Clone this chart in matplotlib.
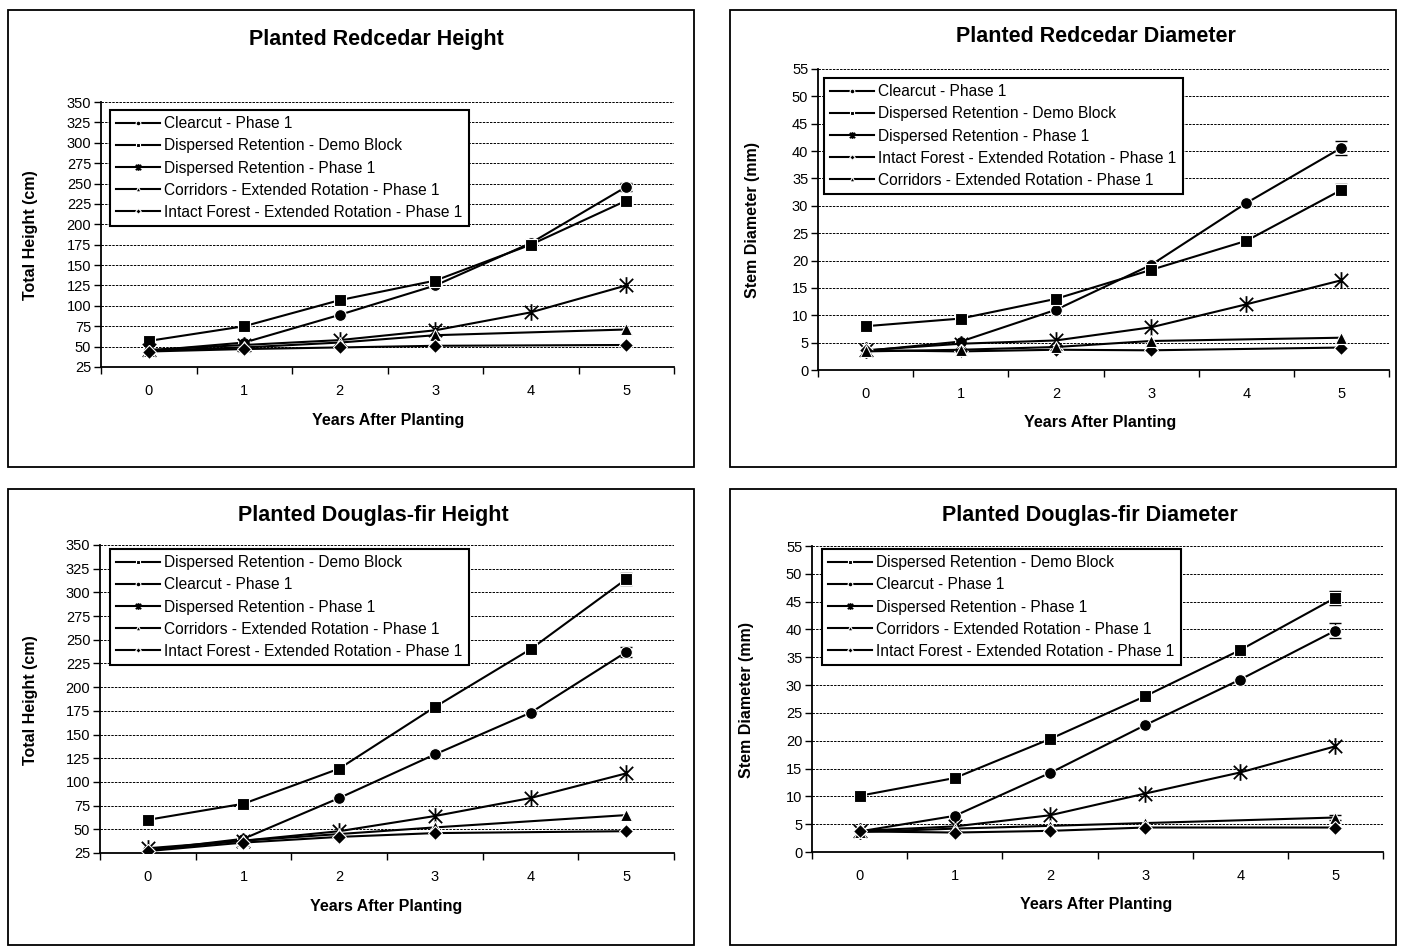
import numpy as np
import matplotlib
matplotlib.use('Agg')
import matplotlib.pyplot as plt
from matplotlib.path import Path
from matplotlib.patches import Rectangle

plt.rcParams['font.family'] = ['Liberation Sans', 'DejaVu Sans']

nan = np.nan
years = [0, 1, 2, 3, 4, 5]

lab_clear = "Clearcut - Phase 1"
lab_demo = "Dispersed Retention - Demo Block"
lab_dr1 = "Dispersed Retention - Phase 1"
lab_corr = "Corridors - Extended Rotation - Phase 1"
lab_intact = "Intact Forest - Extended Rotation - Phase 1"

# Planted Redcedar height (cm)
rc_h_clearcut = [45, 55, 89, 125, 177, 246]
rc_h_demo = [57, 75, 107, 131, 175, 229]
rc_h_dr1 = [46, 52, 58, 70, 92, 125]
rc_h_corr = [45, 49, 55, 64, nan, 71]
rc_h_intact = [44, 47, 49, 51, nan, 52]

# Planted Redcedar diameter (mm)
rc_d_clearcut = [3.5, 5.2, 11.0, 19.2, 30.5, 40.6]
rc_d_demo = [8.0, 9.4, 13.0, 18.3, 23.6, 32.9]
rc_d_dr1 = [3.6, 4.8, 5.4, 7.8, 12.0, 16.4]
rc_d_intact = [3.6, 3.4, 3.7, 3.6, nan, 4.1]
rc_d_corr = [3.4, 3.7, 4.2, 5.3, nan, 5.9]

# Planted Douglas-fir height (cm)
df_h_demo = [60, 77, 114, 179, 240, 314]
df_h_clearcut = [28, 40, 83, 129, 173, 237]
df_h_dr1 = [30, 38, 48, 64, 83, 109]
df_h_corr = [28, 38, 45, 52, nan, 65]
df_h_intact = [27, 36, 42, 46, nan, 48]

# Planted Douglas-fir diameter (mm)
df_d_demo = [10.1, 13.3, 20.3, 28.0, 36.3, 45.7]
df_d_clearcut = [3.7, 6.5, 14.2, 22.8, 31.0, 39.8]
df_d_dr1 = [3.8, 4.6, 6.6, 10.5, 14.3, 19.0]
df_d_corr = [3.6, 4.2, 4.7, 5.2, nan, 6.2]
df_d_intact = [3.7, 3.5, 3.8, 4.4, nan, 4.4]

# standard error at year 5 (only where visible)
rc_h_err5 = {'clearcut': 5, 'demo': 5}
rc_d_err5 = {'clearcut': 1.3, 'demo': 1.0}
df_h_err5 = {'clearcut': 5, 'demo': 6}
df_d_err5 = {'clearcut': 1.3, 'demo': 1.3, 'corr': 0.5}

star = Path([(-1, -1), (1, 1), (-1, 1), (1, -1), (0, -1.25), (0, 1.25)],
            [Path.MOVETO, Path.LINETO] * 3)
styles = {
    'clearcut': ('o', 8.5),
    'demo': ('s', 8),
    'dr1': (star, 12),
    'corr': ('^', 8.5),
    'intact': ('D', 7),
}

W, H = 1403, 950
fig = plt.figure(figsize=(W / 100, H / 100), dpi=100)


def px(l, t, r, b):
    return [l / W, 1 - b / H, (r - l) / W, (b - t) / H]


def draw(box, rect, series, err5, ylim, ystep, title, ylabel, title_xy, xl_xy, yl_xy, leg_xy):
    # chart area border (Excel style)
    fig.patches.append(Rectangle((box[0] / W, 1 - box[3] / H), (box[2] - box[0]) / W,
                                 (box[3] - box[1]) / H, transform=fig.transFigure,
                                 fill=False, edgecolor='black', lw=1.3))
    ax = fig.add_axes(px(*rect))
    for label, vals, key in series:
        y = np.array(vals, float)
        m = ~np.isnan(y)
        x = np.array(years)[m]
        mk, ms = styles[key]
        filled = key != 'dr1'
        ax.plot(x, y[m], color='black', lw=1.5, marker=mk, ms=ms, mfc='black',
                mec='white' if filled else 'black', mew=0.8 if filled else 1.3,
                label=label, zorder=3)
        if key in err5:
            ax.errorbar(5, y[-1], yerr=err5[key], fmt='none', ecolor='black',
                        elinewidth=1, capsize=4, zorder=2)
    ax.set_xlim(-0.5, 5.5)
    ax.set_ylim(*ylim)
    ax.set_xticks(years)
    ax.set_xticks(np.arange(-0.5, 6, 1), minor=True)
    ax.set_yticks(np.arange(ylim[0], ylim[1] + ystep / 2, ystep))
    ax.tick_params(axis='x', which='major', length=0, pad=12, labelsize=10.5)
    ax.tick_params(axis='x', which='minor', length=5, width=1, direction='out')
    ax.tick_params(axis='y', length=5, width=1, direction='out', pad=2, labelsize=10.5)
    ax.yaxis.grid(True, linestyle=(0, (2.5, 1.2)), color='black', lw=0.7)
    ax.set_axisbelow(True)
    for s in ['top', 'right']:
        ax.spines[s].set_visible(False)
    for s in ['left', 'bottom']:
        ax.spines[s].set_linewidth(1.3)
    fig.text(title_xy[0] / W, 1 - title_xy[1] / H, title, ha='center', va='center',
             fontsize=15.5, fontweight='bold')
    fig.text(xl_xy[0] / W, 1 - xl_xy[1] / H, "Years After Planting", ha='center',
             va='center', fontsize=11.5, fontweight='bold')
    fig.text(yl_xy[0] / W, 1 - yl_xy[1] / H, ylabel, ha='center', va='center',
             rotation=90, fontsize=11.5, fontweight='bold')
    leg = ax.legend(loc='upper left', bbox_to_anchor=(leg_xy[0] / W, 1 - leg_xy[1] / H),
                    bbox_transform=fig.transFigure, fontsize=11.2, markerscale=0.4,
                    handlelength=2.8, handletextpad=0.3, labelspacing=0.46,
                    borderpad=0.4, borderaxespad=0, fancybox=False, framealpha=1)
    leg.get_frame().set_edgecolor('black')
    leg.get_frame().set_linewidth(1.5)
    return ax


draw((8, 10, 694, 467), (101, 102, 674, 367),
     [(lab_clear, rc_h_clearcut, 'clearcut'), (lab_demo, rc_h_demo, 'demo'),
      (lab_dr1, rc_h_dr1, 'dr1'), (lab_corr, rc_h_corr, 'corr'),
      (lab_intact, rc_h_intact, 'intact')],
     rc_h_err5, (25, 350), 25, "Planted Redcedar Height", "Total Height (cm)",
     (376, 40), (388, 420), (31, 235), (110, 110))

draw((730, 10, 1396, 467), (818, 69, 1389, 370),
     [(lab_clear, rc_d_clearcut, 'clearcut'), (lab_demo, rc_d_demo, 'demo'),
      (lab_dr1, rc_d_dr1, 'dr1'), (lab_intact, rc_d_intact, 'intact'),
      (lab_corr, rc_d_corr, 'corr')],
     rc_d_err5, (0, 55), 5, "Planted Redcedar Diameter", "Stem Diameter (mm)",
     (1096, 37), (1100, 423), (752, 220), (824, 78))

draw((8, 489, 694, 945), (100, 545, 674, 853),
     [(lab_demo, df_h_demo, 'demo'), (lab_clear, df_h_clearcut, 'clearcut'),
      (lab_dr1, df_h_dr1, 'dr1'), (lab_corr, df_h_corr, 'corr'),
      (lab_intact, df_h_intact, 'intact')],
     df_h_err5, (25, 350), 25, "Planted Douglas-fir Height", "Total Height (cm)",
     (373, 516), (386, 907), (31, 700), (110, 549))

draw((730, 489, 1396, 945), (812, 546, 1383, 852),
     [(lab_demo, df_d_demo, 'demo'), (lab_clear, df_d_clearcut, 'clearcut'),
      (lab_dr1, df_d_dr1, 'dr1'), (lab_corr, df_d_corr, 'corr'),
      (lab_intact, df_d_intact, 'intact')],
     df_d_err5, (0, 55), 5, "Planted Douglas-fir Diameter", "Stem Diameter (mm)",
     (1090, 516), (1096, 905), (747, 700), (822, 549))

fig.savefig('out.png', dpi=100)
